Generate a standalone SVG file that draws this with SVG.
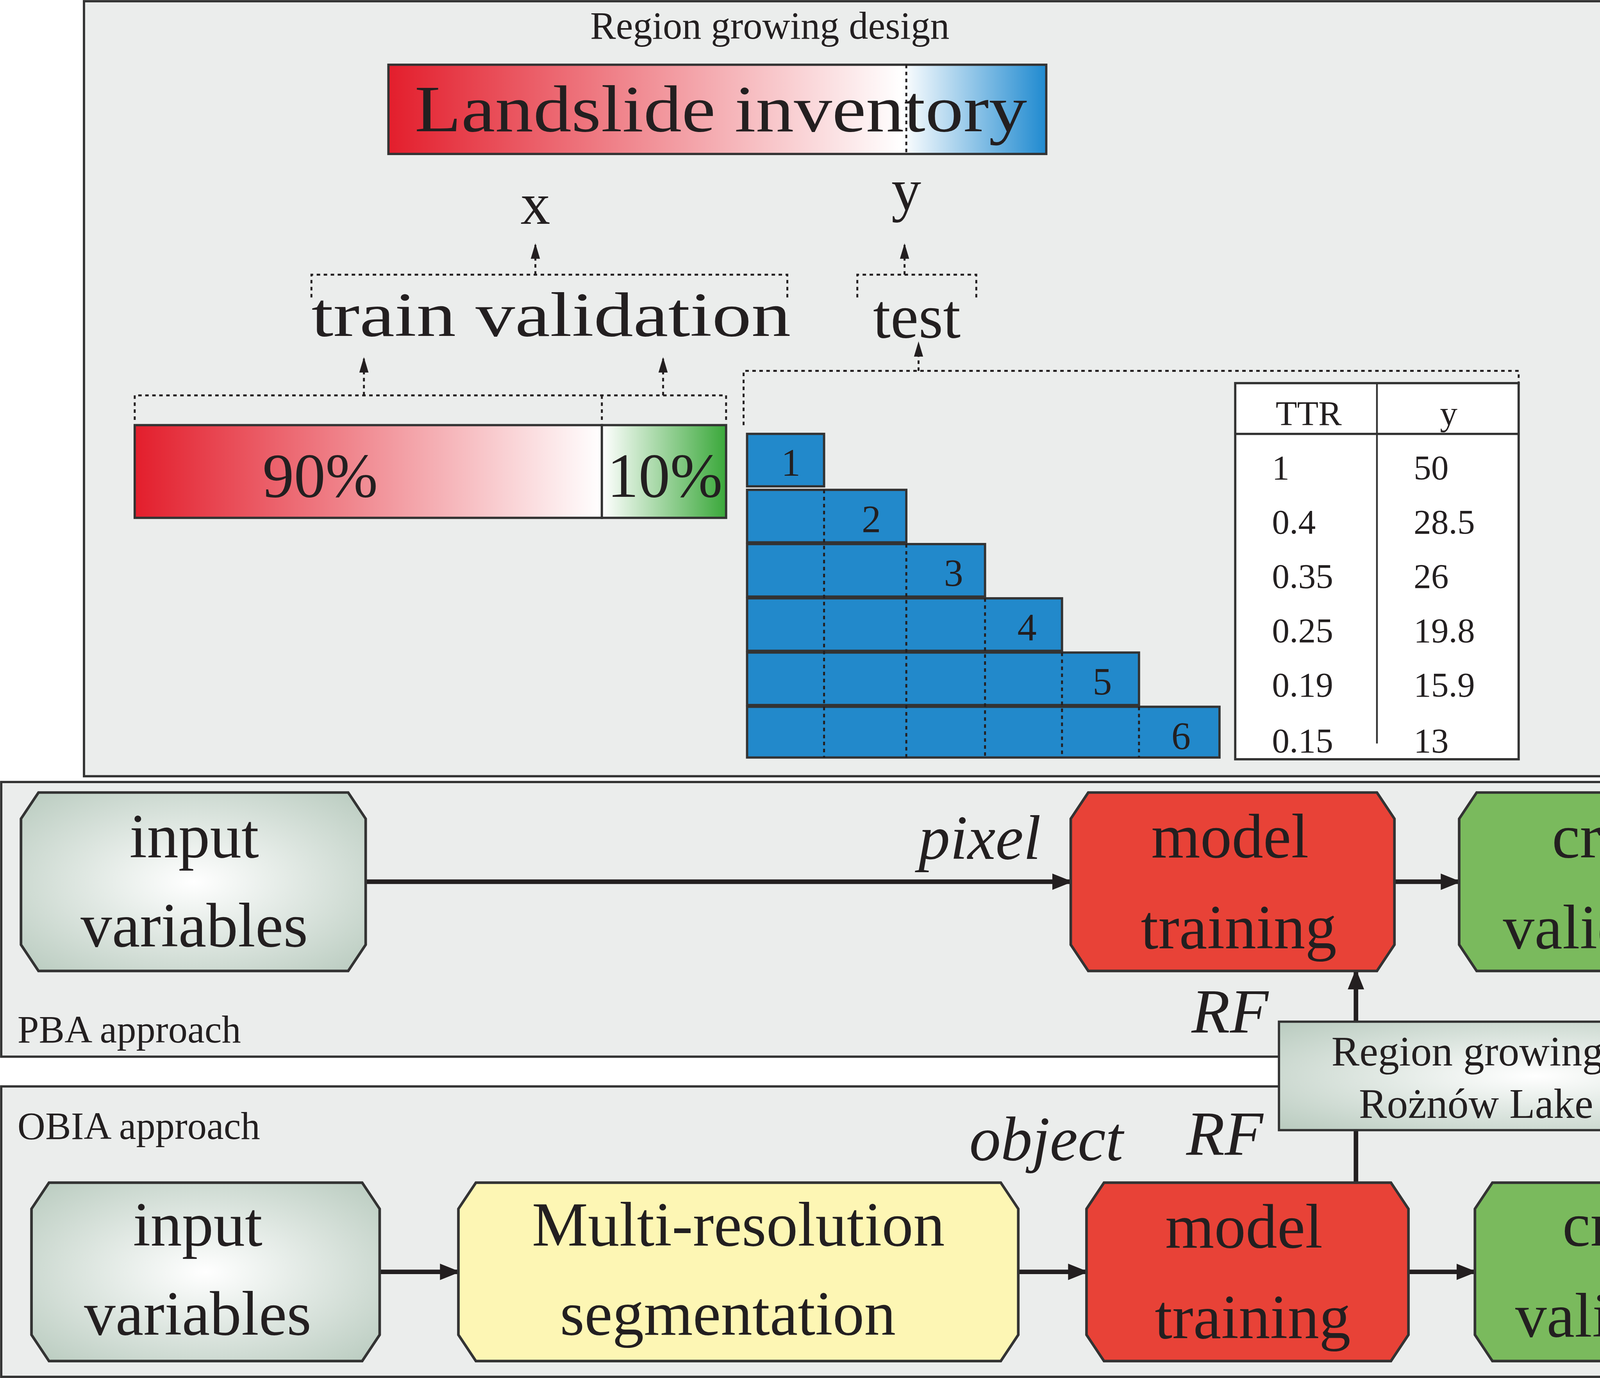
<svg xmlns="http://www.w3.org/2000/svg" width="7023" height="3528" viewBox="0 0 7023 3528">
<style>
text{font-family:"Liberation Serif","DejaVu Serif",serif;fill:#231f20}
.pan{fill:#ebedec;stroke:#333;stroke-width:1.3}
.big{font-size:36px}
.mid{font-size:22px}
.tab{font-size:20px}
.it{font-style:italic}
.dot{fill:none;stroke:#231f20;stroke-width:1.1;stroke-dasharray:2 2}
.con{fill:none;stroke:#231f20;stroke-width:2.6}
.nd{stroke:#333;stroke-width:1.5}
.blue{fill:#2289cb;stroke:#333;stroke-width:1.3}
</style>
<defs>
<linearGradient id="gRB" x1="0" x2="1"><stop offset="0" stop-color="#e31e2c"/><stop offset="0.78" stop-color="#ffffff"/><stop offset="1" stop-color="#1f8ad0"/></linearGradient>
<linearGradient id="gR" x1="0" x2="1"><stop offset="0" stop-color="#e31e2c"/><stop offset="1" stop-color="#ffffff"/></linearGradient>
<linearGradient id="gG" x1="0" x2="1"><stop offset="0" stop-color="#ffffff"/><stop offset="1" stop-color="#3aa83a"/></linearGradient>
<radialGradient id="gGr" cx="0.5" cy="0.5" r="0.7"><stop offset="0" stop-color="#ffffff"/><stop offset="1" stop-color="#b9cbbf"/></radialGradient>
<marker id="ah" viewBox="0 0 10 10" refX="9" refY="5" markerWidth="4.5" markerHeight="4.5" orient="auto" markerUnits="strokeWidth"><path d="M0,1 L10,5 L0,9 z" fill="#231f20"/></marker>
<marker id="ahs" viewBox="0 0 10 10" refX="9" refY="5" markerWidth="8" markerHeight="8" orient="auto" markerUnits="strokeWidth"><path d="M0,2 L10,5 L0,8 z" fill="#231f20"/></marker>
</defs>
<rect width="7023" height="3528" fill="#ffffff"/>
<g transform="scale(4.479)">
<g id="panel-region">
<rect class="pan" x="48" y="0.7" width="884" height="443"/>
<text class="mid" x="440" y="22" text-anchor="middle">Region growing design</text>
<rect x="222" y="37" width="376" height="51" fill="url(#gRB)" stroke="#333" stroke-width="1.3"/>
<line x1="518" y1="37" x2="518" y2="88" class="dot"/>
<text x="412" y="75" font-size="38" text-anchor="middle" textLength="350" lengthAdjust="spacingAndGlyphs">Landslide inventory</text>
<text x="306" y="128" font-size="34" text-anchor="middle">x</text>
<text x="518" y="120" font-size="34" text-anchor="middle">y</text>
<path class="dot" d="M178,170 V157 H450 V170 M490,170 V157 H558 V170"/>
<line class="dot" x1="306" y1="157" x2="306" y2="140" marker-end="url(#ahs)"/>
<line class="dot" x1="517" y1="157" x2="517" y2="140" marker-end="url(#ahs)"/>
<text class="big" x="178" y="192" textLength="274" lengthAdjust="spacingAndGlyphs">train  validation</text>
<text class="big" x="524" y="193" text-anchor="middle">test</text>
<path class="dot" d="M77,240 V226 H415 V240 M344,226 V240"/>
<line class="dot" x1="208" y1="226" x2="208" y2="205" marker-end="url(#ahs)"/>
<line class="dot" x1="379" y1="226" x2="379" y2="205" marker-end="url(#ahs)"/>
<path class="dot" d="M425,243 V212 H868 V222"/>
<line class="dot" x1="525" y1="212" x2="525" y2="196" marker-end="url(#ahs)"/>
<rect x="77" y="243" width="267" height="53" fill="url(#gR)" stroke="#333" stroke-width="1.3"/>
<rect x="344" y="243" width="71" height="53" fill="url(#gG)" stroke="#333" stroke-width="1.3"/>
<text class="big" x="183" y="284" text-anchor="middle">90%</text>
<text class="big" x="380" y="284" text-anchor="middle">10%</text>
<rect class="blue" x="427" y="248" width="44" height="30"/>
<rect class="blue" x="427" y="280" width="91" height="30"/>
<rect class="blue" x="427" y="311" width="136" height="30"/>
<rect class="blue" x="427" y="342" width="180" height="30"/>
<rect class="blue" x="427" y="373" width="224" height="30"/>
<rect class="blue" x="427" y="404" width="270" height="29"/>
<path class="dot" d="M471,280 V433 M518,311 V433 M563,342 V433 M607,373 V433 M651,404 V433"/>
<g font-size="22"><text x="452" y="272" text-anchor="middle">1</text><text x="498" y="304" text-anchor="middle">2</text><text x="545" y="335" text-anchor="middle">3</text><text x="587" y="366" text-anchor="middle">4</text><text x="630" y="397" text-anchor="middle">5</text><text x="675" y="428" text-anchor="middle">6</text></g>
<rect x="706" y="219" width="162" height="215" fill="#fff" stroke="#333" stroke-width="1.3"/>
<line x1="706" y1="248" x2="868" y2="248" stroke="#333" stroke-width="1.3"/>
<line x1="787" y1="219" x2="787" y2="425" stroke="#333" stroke-width="1"/>
<g class="tab"><text x="748" y="243" text-anchor="middle">TTR</text><text x="828" y="243" text-anchor="middle">y</text>
<text x="727" y="274">1</text><text x="808" y="274">50</text>
<text x="727" y="305">0.4</text><text x="808" y="305">28.5</text>
<text x="727" y="336">0.35</text><text x="808" y="336">26</text>
<text x="727" y="367">0.25</text><text x="808" y="367">19.8</text>
<text x="727" y="398">0.19</text><text x="808" y="398">15.9</text>
<text x="727" y="430">0.15</text><text x="808" y="430">13</text></g>
</g>
<g id="panel-roznow">
<rect class="pan" x="942" y="67" width="582" height="377"/>
<text class="mid" x="1237" y="92" text-anchor="middle">Rożnów Lake design</text>
<rect x="1059" y="107" width="376" height="53" fill="url(#gRB)" stroke="#333" stroke-width="1.3"/>
<text x="1244" y="146" font-size="38" text-anchor="middle" textLength="355" lengthAdjust="spacingAndGlyphs">Landslide inventory</text>
<text font-size="34" x="1192" y="198" text-anchor="middle">54%</text>
<text font-size="34" x="1405" y="198" text-anchor="middle">46%</text>
<path class="dot" d="M1043,237 V223 H1321 V237 M1370,237 V223 H1441 V237"/>
<line class="dot" x1="1192" y1="223" x2="1192" y2="203" marker-end="url(#ahs)"/>
<line class="dot" x1="1405" y1="223" x2="1405" y2="203" marker-end="url(#ahs)"/>
<text class="big" x="1042" y="258" textLength="280" lengthAdjust="spacingAndGlyphs">train  validation</text>
<text class="big" x="1407" y="259" text-anchor="middle">test</text>
<path class="dot" d="M957,290 H1297 V302 M1223,290 V302 M1306,302 V290 H1505 V302"/>
<line class="dot" x1="1087" y1="290" x2="1087" y2="268" marker-end="url(#ahs)"/>
<line class="dot" x1="1260" y1="290" x2="1260" y2="268" marker-end="url(#ahs)"/>
<line class="dot" x1="1407" y1="290" x2="1407" y2="268" marker-end="url(#ahs)"/>
<rect x="957" y="305" width="266" height="52" fill="url(#gR)" stroke="#333" stroke-width="1.3"/>
<rect x="1223" y="305" width="74" height="52" fill="url(#gG)" stroke="#333" stroke-width="1.3"/>
<rect class="blue" x="1305" y="305" width="199" height="52"/>
<text class="big" x="1062" y="344" text-anchor="middle">90%</text>
<text class="big" x="1260" y="344" text-anchor="middle">10%</text>
<text class="big" x="1088" y="423" text-anchor="middle">train</text>
<text class="big" x="1265" y="423" text-anchor="middle">validation</text>
<text class="big" x="1407" y="424" text-anchor="middle">test</text>
</g>
<g id="panel-pba">
<rect class="pan" x="0.7" y="447" width="1566.6" height="157"/>
<text class="mid" x="10" y="596">PBA approach</text>
</g>
<g id="panel-obia">
<rect class="pan" x="0.7" y="621" width="1566.6" height="166"/>
<text class="mid" x="10" y="651">OBIA approach</text>
</g>
<g id="connectors">
<line class="con" x1="209" y1="504" x2="612" y2="504" marker-end="url(#ah)"/>
<line class="con" x1="797" y1="504" x2="834" y2="504" marker-end="url(#ah)"/>
<line class="con" x1="1026" y1="503" x2="1067" y2="503" marker-end="url(#ah)"/>
<line class="con" x1="1297" y1="503" x2="1323" y2="503" marker-end="url(#ah)"/>
<line class="con" x1="775" y1="584" x2="775" y2="555" marker-end="url(#ah)"/>
<line class="con" x1="775" y1="646" x2="775" y2="690" marker-end="url(#ah)"/>
<line class="con" x1="217" y1="727" x2="262" y2="727" marker-end="url(#ah)"/>
<line class="con" x1="582" y1="727" x2="621" y2="727" marker-end="url(#ah)"/>
<line class="con" x1="805" y1="727" x2="843" y2="727" marker-end="url(#ah)"/>
<line class="con" x1="1033" y1="724" x2="1076" y2="724" marker-end="url(#ah)"/>
<line class="con" x1="1304" y1="722" x2="1328" y2="722" marker-end="url(#ah)"/>
</g>
<g class="big it">
<text x="560" y="491" text-anchor="middle">pixel</text>
<text x="703" y="590" text-anchor="middle">RF</text>
<text x="1187" y="585" text-anchor="middle">RF</text>
<text x="598" y="663" text-anchor="middle">object</text>
<text x="700" y="660" text-anchor="middle">RF</text>
<text x="1190" y="672" text-anchor="middle">RF</text>
</g>
<g id="pba-input"><path class="nd" fill="url(#gGr)" d="M22,453 H199 L209,468 V540 L199,555 H22 L12,540 V468 Z"/>
<text class="big" x="111" y="490" text-anchor="middle">input</text><text class="big" x="111" y="541" text-anchor="middle">variables</text></g>
<g id="pba-model"><path class="nd" fill="#e84237" d="M622,453 H787 L797,468 V540 L787,555 H622 L612,540 V468 Z"/>
<text class="big" x="703" y="490" text-anchor="middle">model</text><text class="big" x="708" y="542" text-anchor="middle">training</text></g>
<g id="pba-cv"><path class="nd" fill="#7aba5d" d="M844,453 H1016 L1026,468 V540 L1016,555 H844 L834,540 V468 Z"/>
<text class="big" x="930" y="490" text-anchor="middle">cross-</text><text class="big" x="931" y="542" text-anchor="middle">validation</text></g>
<g id="pba-class"><path class="nd" fill="#fdf6b4" d="M1074,474 H1290 L1297,484 V512 L1290,522 H1074 L1067,512 V484 Z"/>
<text x="1182" y="511" font-size="34" text-anchor="middle" textLength="216" lengthAdjust="spacingAndGlyphs">classification</text></g>
<g id="pba-acc"><path class="nd" fill="#1f8ad0" d="M1333,453 H1547 L1557,467 V533 L1547,547 H1333 L1323,533 V467 Z"/>
<text class="big" x="1437" y="486" text-anchor="middle">accuracy</text><text class="big" x="1440" y="537" text-anchor="middle">assessment</text></g>
<g id="design"><rect x="731" y="584" width="293" height="62" fill="url(#gGr)" stroke="#333" stroke-width="1.3"/>
<text x="873" y="609" font-size="24" text-anchor="middle">Region growing design</text>
<text x="878" y="639" font-size="24" text-anchor="middle">Rożnów Lake design</text></g>
<g id="obia-input"><path class="nd" fill="url(#gGr)" d="M28,676 H207 L217,691 V763 L207,778 H28 L18,763 V691 Z"/>
<text class="big" x="113" y="712" text-anchor="middle">input</text><text class="big" x="113" y="763" text-anchor="middle">variables</text></g>
<g id="obia-seg"><path class="nd" fill="#fdf6b4" d="M272,676 H572 L582,691 V763 L572,778 H272 L262,763 V691 Z"/>
<text class="big" x="422" y="712" text-anchor="middle">Multi-resolution</text><text class="big" x="416" y="763" text-anchor="middle">segmentation</text></g>
<g id="obia-model"><path class="nd" fill="#e84237" d="M631,676 H795 L805,691 V763 L795,778 H631 L621,763 V691 Z"/>
<text class="big" x="711" y="713" text-anchor="middle">model</text><text class="big" x="716" y="765" text-anchor="middle">training</text></g>
<g id="obia-cv"><path class="nd" fill="#7aba5d" d="M853,676 H1023 L1033,691 V763 L1023,778 H853 L843,763 V691 Z"/>
<text class="big" x="936" y="712" text-anchor="middle">cross-</text><text class="big" x="938" y="764" text-anchor="middle">validation</text></g>
<g id="obia-class"><path class="nd" fill="#fdf6b4" d="M1083,695 H1297 L1304,705 V735 L1297,745 H1083 L1076,735 V705 Z"/>
<text x="1190" y="733" font-size="34" text-anchor="middle" textLength="216" lengthAdjust="spacingAndGlyphs">classification</text></g>
<g id="obia-acc"><path class="nd" fill="#1f8ad0" d="M1338,676 H1549 L1559,690 V756 L1549,770 H1338 L1328,756 V690 Z"/>
<text class="big" x="1440" y="705" text-anchor="middle">accuracy</text><text class="big" x="1443" y="756" text-anchor="middle">assessment</text></g>
</g>
</svg>
